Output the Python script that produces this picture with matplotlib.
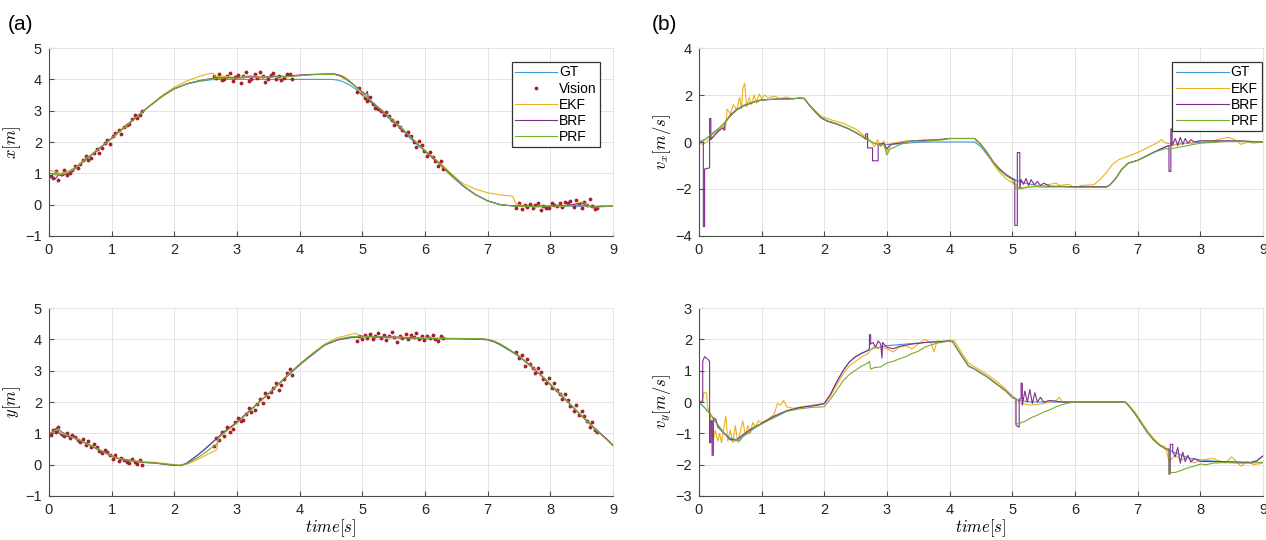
import matplotlib
matplotlib.use('Agg')
import matplotlib.pyplot as plt

# ---------------- data ----------------
# vision timestamps (same for x and y)
vis_t = [0.03, 0.07, 0.11, 0.15, 0.2, 0.24, 0.28, 0.33, 0.37, 0.41, 0.46, 0.5, 0.54, 0.59, 0.63, 0.67, 0.72,
         0.76, 0.8, 0.85, 0.89, 0.93, 0.98, 1.02, 1.06, 1.11, 1.15, 1.19, 1.24, 1.28, 1.32, 1.37, 1.41, 1.45, 1.49,
         2.63, 2.67, 2.71, 2.76, 2.8, 2.84, 2.89, 2.93, 2.97, 3.02, 3.06, 3.1, 3.15, 3.19, 3.23, 3.28, 3.32, 3.36,
         3.41, 3.45, 3.49, 3.54, 3.58, 3.62, 3.67, 3.71, 3.75, 3.8, 3.84, 3.88,
         4.91, 4.95, 4.99, 5.04, 5.08, 5.12, 5.17, 5.21, 5.25, 5.3, 5.34, 5.38, 5.43, 5.47, 5.51, 5.56, 5.6, 5.64,
         5.69, 5.73, 5.77, 5.82, 5.86, 5.9, 5.95, 5.99, 6.03, 6.08, 6.12, 6.16, 6.21, 6.25, 6.29,
         7.46, 7.5, 7.54, 7.59, 7.63, 7.67, 7.72, 7.76, 7.8, 7.85, 7.89, 7.93, 7.98, 8.02, 8.06, 8.11, 8.15, 8.19,
         8.24, 8.28, 8.32, 8.37, 8.41, 8.45, 8.5, 8.54, 8.58, 8.63, 8.67, 8.71, 8.75]
vis_x = [0.92, 0.85, 1.08, 0.78, 0.98, 1.1, 0.95, 1.02, 1.12, 1.25, 1.18, 1.3, 1.42, 1.55, 1.42, 1.48, 1.65,
         1.78, 1.66, 1.82, 1.98, 2.08, 1.95, 2.18, 2.28, 2.38, 2.25, 2.48, 2.55, 2.58, 2.72, 2.85, 2.76, 2.86, 3.0,
         4.12, 4.06, 4.18, 3.98, 4.02, 4.1, 4.2, 3.95, 4.08, 4.15, 3.88, 4.12, 4.22, 3.96, 4.0, 4.18, 4.06, 4.25,
         4.1, 3.92, 4.02, 4.15, 4.2, 4.0, 4.1, 3.98, 4.05, 4.16, 4.18, 4.02,
         3.6, 3.72, 3.55, 3.42, 3.3, 3.45, 3.22, 3.1, 3.05, 3.0, 2.85, 2.95, 2.82, 2.7, 2.55, 2.65, 2.48, 2.38,
         2.22, 2.32, 2.18, 2.0, 1.85, 2.02, 1.9, 1.72, 1.55, 1.68, 1.52, 1.4, 1.25, 1.38, 1.15,
         -0.1, 0.05, -0.15, 0.0, -0.08, 0.02, -0.12, -0.02, 0.04, -0.18, -0.05, -0.12, -0.1, 0.06, 0.0, -0.03,
         0.05, -0.08, 0.1, 0.06, 0.12, -0.06, 0.15, 0.02, -0.1, 0.08, -0.02, 0.18, -0.05, -0.15, -0.1]
vis_y = [0.95, 1.12, 1.05, 1.2, 0.98, 0.9, 1.02, 0.85, 0.95, 0.88, 0.78, 0.72, 0.82, 0.62, 0.75, 0.55, 0.65,
         0.58, 0.45, 0.38, 0.48, 0.42, 0.3, 0.18, 0.3, 0.12, 0.22, 0.14, 0.08, 0.05, 0.18, 0.1, 0.02, 0.15, -0.02,
         0.6, 0.85, 0.78, 1.05, 0.92, 1.2, 1.05, 1.15, 1.35, 1.5, 1.38, 1.42, 1.62, 1.8, 1.68, 1.75, 1.95, 2.1,
         1.98, 2.28, 2.15, 2.32, 2.45, 2.62, 2.4, 2.55, 2.75, 2.92, 3.05, 2.85,
         3.95, 4.1, 4.02, 4.15, 4.05, 4.18, 4.0, 4.12, 4.2, 4.05, 4.15, 3.98, 4.1, 4.22, 4.08, 3.92, 4.12, 4.05,
         4.18, 4.0, 4.15, 4.08, 4.2, 4.02, 4.1, 3.98, 4.12, 4.05, 4.15, 4.0, 3.95, 4.1, 4.05,
         3.6, 3.4, 3.5, 3.15, 3.38, 3.22, 3.1, 2.92, 3.08, 2.95, 2.75, 2.6, 2.78, 2.45, 2.6, 2.38, 2.25, 2.1,
         2.25, 2.05, 1.88, 1.72, 1.9, 1.58, 1.72, 1.55, 1.4, 1.2, 1.35, 1.1, 1.05]

# position x
x_gt_t = [0, 0.2, 0.4, 0.6, 0.8, 1.0, 1.2, 1.4, 1.6, 1.8, 2.0, 2.2, 2.4, 2.6, 2.8, 3.0, 4.5, 4.6, 4.7, 4.8,
          4.9, 5.0, 5.2, 5.4, 5.6, 5.8, 6.0, 6.2, 6.4, 6.6, 6.8, 7.0, 7.2, 7.4, 7.6, 9.0]
x_gt = [1.0, 0.97, 1.15, 1.45, 1.78, 2.12, 2.47, 2.82, 3.14, 3.45, 3.7, 3.85, 3.94, 3.99, 4.0, 4.0, 4.0, 3.98,
        3.92, 3.82, 3.68, 3.5, 3.15, 2.8, 2.45, 2.05, 1.7, 1.35, 0.95, 0.6, 0.32, 0.12, 0.0, -0.04, -0.05, -0.05]
x_ekf_t = [0, 0.1, 0.2, 0.3, 0.4, 0.5, 0.6, 0.7, 0.8, 0.9, 1.0, 1.1, 1.2, 1.3, 1.4, 1.5, 1.6, 1.8, 2.0, 2.2,
           2.4, 2.55, 2.62, 2.65, 2.8, 3.0, 3.2, 3.4, 3.6, 3.8, 4.0, 4.2, 4.4, 4.55, 4.7, 4.8, 4.9, 5.0, 5.2,
           5.4, 5.6, 5.8, 6.0, 6.2, 6.3, 6.4, 6.6, 6.8, 7.0, 7.2, 7.4, 7.45, 7.6, 7.8, 8.0, 8.2, 8.4, 8.5, 8.6,
           8.7, 8.8, 9.0]
x_ekf = [1.1, 1.05, 1.0, 1.05, 1.15, 1.32, 1.5, 1.62, 1.8, 1.95, 2.12, 2.3, 2.45, 2.62, 2.8, 2.97, 3.15, 3.48,
         3.75, 3.95, 4.1, 4.18, 4.2, 4.08, 4.1, 4.05, 4.12, 4.08, 4.1, 4.08, 4.12, 4.15, 4.17, 4.18, 4.1, 3.95,
         3.75, 3.55, 3.2, 2.85, 2.5, 2.1, 1.72, 1.38, 1.22, 1.02, 0.68, 0.5, 0.38, 0.31, 0.27, 0.02, -0.05,
         -0.08, -0.04, -0.06, 0.02, 0.08, -0.02, -0.1, -0.05, -0.05]
x_brf_t = [0, 0.05, 0.1, 0.15, 0.2, 0.3, 0.4, 0.5, 0.6, 0.7, 0.8, 0.9, 1.0, 1.1, 1.2, 1.3, 1.4, 1.5, 1.6, 1.8,
           2.0, 2.2, 2.4, 2.6, 2.8, 3.0, 3.2, 3.4, 3.6, 3.8, 4.0, 4.2, 4.4, 4.55, 4.65, 4.75, 4.85, 4.95, 5.05,
           5.08, 5.1, 5.2, 5.4, 5.6, 5.8, 6.0, 6.2, 6.4, 6.6, 6.8, 7.0, 7.2, 7.4, 7.6, 8.0, 8.3, 8.5, 8.6, 8.7,
           8.8, 9.0]
x_brf = [0.95, 0.88, 0.82, 0.95, 0.92, 1.0, 1.12, 1.3, 1.48, 1.62, 1.8, 1.95, 2.12, 2.3, 2.47, 2.63, 2.8, 2.98,
         3.14, 3.45, 3.7, 3.86, 3.96, 4.03, 4.06, 4.05, 4.08, 4.06, 4.1, 4.1, 4.14, 4.16, 4.17, 4.17, 4.12, 4.0,
         3.85, 3.68, 3.52, 3.62, 3.35, 3.2, 2.85, 2.48, 2.1, 1.72, 1.38, 1.0, 0.62, 0.33, 0.12, 0.0, -0.04,
         -0.05, -0.05, -0.02, 0.05, -0.05, -0.1, -0.05, -0.05]
x_prf_t = [0, 0.1, 0.2, 0.3, 0.4, 0.5, 0.6, 0.7, 0.8, 0.9, 1.0, 1.2, 1.4, 1.5, 1.6, 1.8, 2.0, 2.2, 2.4, 2.6,
           2.8, 3.0, 3.2, 3.4, 3.6, 3.8, 4.0, 4.2, 4.4, 4.55, 4.65, 4.75, 4.85, 4.95, 5.05, 5.2, 5.4, 5.6, 5.8,
           6.0, 6.2, 6.4, 6.6, 6.8, 7.0, 7.2, 7.4, 7.6, 8.0, 8.5, 8.7, 9.0]
x_prf = [1.0, 0.95, 0.95, 1.02, 1.13, 1.3, 1.47, 1.63, 1.8, 1.96, 2.12, 2.47, 2.8, 2.98, 3.14, 3.45, 3.7, 3.86,
         3.96, 4.02, 4.05, 4.04, 4.07, 4.05, 4.08, 4.09, 4.12, 4.15, 4.16, 4.16, 4.1, 3.98, 3.84, 3.67, 3.5,
         3.2, 2.84, 2.48, 2.1, 1.72, 1.37, 0.98, 0.62, 0.33, 0.12, 0.0, -0.04, -0.06, -0.05, -0.02, -0.08, -0.05]

# position y
y_gt_t = [0, 0.1, 0.15, 0.2, 0.3, 0.4, 0.5, 0.6, 0.7, 0.8, 0.9, 1.0, 1.1, 1.2, 1.3, 1.4, 1.5, 1.7, 1.9, 2.0,
          2.1, 2.2, 2.3, 2.4, 2.5, 2.6, 2.7, 2.8, 3.0, 3.2, 3.4, 3.6, 3.8, 4.0, 4.2, 4.4, 4.6, 4.8, 5.0, 5.5,
          6.0, 6.5, 6.9, 7.0, 7.1, 7.2, 7.3, 7.4, 7.5, 7.7, 7.9, 8.1, 8.3, 8.5, 8.7, 8.9, 9.0]
y_gt = [0.97, 1.12, 1.15, 1.05, 0.95, 0.86, 0.77, 0.68, 0.58, 0.48, 0.38, 0.28, 0.2, 0.15, 0.12, 0.1, 0.08,
        0.05, 0.0, -0.02, -0.03, 0.05, 0.2, 0.35, 0.52, 0.7, 0.88, 1.05, 1.35, 1.72, 2.08, 2.45, 2.82, 3.18,
        3.5, 3.82, 3.98, 4.05, 4.08, 4.05, 4.02, 4.02, 4.0, 3.98, 3.92, 3.82, 3.7, 3.58, 3.45, 3.12, 2.75,
        2.35, 1.95, 1.55, 1.18, 0.82, 0.62]
y_ekf_t = [0, 0.1, 0.15, 0.2, 0.3, 0.4, 0.5, 0.6, 0.7, 0.8, 0.9, 1.0, 1.1, 1.2, 1.3, 1.4, 1.5, 1.7, 1.9, 2.0,
           2.1, 2.2, 2.3, 2.4, 2.5, 2.6, 2.68, 2.7, 2.8, 3.0, 3.2, 3.4, 3.6, 3.8, 4.0, 4.2, 4.4, 4.6, 4.8, 4.9,
           4.95, 5.0, 5.5, 6.0, 6.5, 6.9, 7.0, 7.1, 7.2, 7.3, 7.4, 7.5, 7.7, 7.9, 8.1, 8.3, 8.5, 8.7, 8.9, 9.0]
y_ekf = [0.98, 1.1, 1.15, 1.0, 0.92, 0.85, 0.78, 0.66, 0.58, 0.47, 0.38, 0.28, 0.2, 0.16, 0.14, 0.12, 0.1,
         0.07, 0.03, 0.0, -0.01, 0.02, 0.1, 0.2, 0.3, 0.4, 0.48, 0.85, 1.02, 1.33, 1.7, 2.07, 2.45, 2.85, 3.22,
         3.55, 3.85, 4.05, 4.15, 4.2, 4.1, 4.08, 4.08, 4.05, 4.03, 4.02, 4.0, 3.95, 3.86, 3.74, 3.6, 3.47,
         3.14, 2.78, 2.38, 1.97, 1.56, 1.15, 0.8, 0.6]
y_brf_t = [0, 0.08, 0.12, 0.16, 0.2, 0.3, 0.4, 0.5, 0.6, 0.7, 0.8, 0.9, 1.0, 1.1, 1.2, 1.3, 1.4, 1.5, 1.7,
           1.9, 2.0, 2.1, 2.2, 2.3, 2.4, 2.5, 2.6, 2.7, 2.8, 3.0, 3.2, 3.4, 3.6, 3.8, 4.0, 4.2, 4.4, 4.6, 4.8,
           5.0, 5.5, 6.0, 6.5, 6.9, 7.0, 7.1, 7.2, 7.3, 7.4, 7.5, 7.7, 7.9, 8.1, 8.3, 8.5, 8.7, 8.9, 9.0]
y_brf = [0.95, 1.08, 1.18, 1.02, 0.92, 0.9, 0.88, 0.76, 0.68, 0.57, 0.46, 0.38, 0.27, 0.2, 0.16, 0.14, 0.1,
         0.07, 0.05, 0.0, -0.02, -0.03, 0.05, 0.2, 0.35, 0.52, 0.7, 0.88, 1.06, 1.36, 1.72, 2.08, 2.45, 2.83,
         3.2, 3.52, 3.82, 3.98, 4.06, 4.1, 4.07, 4.03, 4.02, 4.01, 3.99, 3.93, 3.84, 3.72, 3.6, 3.47, 3.13,
         2.76, 2.36, 1.96, 1.56, 1.17, 0.82, 0.62]
y_prf_t = [0, 0.1, 0.15, 0.2, 0.3, 0.4, 0.5, 0.6, 0.7, 0.8, 0.9, 1.0, 1.1, 1.2, 1.3, 1.4, 1.5, 1.7, 1.9, 2.0,
           2.1, 2.2, 2.3, 2.4, 2.5, 2.6, 2.68, 2.7, 2.8, 3.0, 3.2, 3.4, 3.6, 3.8, 4.0, 4.2, 4.4, 4.6, 4.8, 5.0,
           5.5, 6.0, 6.5, 6.9, 7.0, 7.1, 7.2, 7.3, 7.4, 7.5, 7.7, 7.9, 8.1, 8.3, 8.5, 8.7, 8.9, 9.0]
y_prf = [0.97, 1.1, 1.13, 1.03, 0.94, 0.86, 0.77, 0.67, 0.58, 0.48, 0.38, 0.28, 0.21, 0.16, 0.13, 0.1, 0.08,
         0.05, 0.01, -0.01, -0.02, 0.03, 0.14, 0.26, 0.4, 0.55, 0.65, 0.85, 1.03, 1.34, 1.71, 2.08, 2.45, 2.84,
         3.2, 3.53, 3.83, 4.0, 4.08, 4.1, 4.06, 4.03, 4.03, 4.02, 4.0, 3.94, 3.85, 3.73, 3.6, 3.47, 3.13, 2.76,
         2.36, 1.96, 1.56, 1.17, 0.8, 0.6]

# velocity vx
vx_gt_t = [0, 0.1, 0.2, 0.3, 0.4, 0.5, 0.6, 0.7, 0.8, 0.9, 1.0, 1.2, 1.4, 1.6, 1.68, 1.75, 1.85, 1.95, 2.05,
           2.2, 2.4, 2.6, 2.7, 2.8, 2.9, 3.0, 3.2, 3.4, 3.6, 4.4, 4.5, 4.6, 4.7, 4.8, 4.9, 5.0, 5.2, 5.4, 5.6,
           6.0, 6.5, 6.55, 6.65, 6.75, 6.85, 7.0, 7.1, 7.2, 7.3, 7.4, 7.5, 7.7, 8.0, 8.3, 8.6, 9.0]
vx_gt = [0, 0.12, 0.3, 0.52, 0.78, 1.1, 1.38, 1.55, 1.65, 1.73, 1.78, 1.82, 1.83, 1.86, 1.85, 1.6, 1.3, 1.05,
         0.9, 0.78, 0.55, 0.25, 0.08, -0.05, -0.1, -0.1, -0.08, -0.03, 0.0, 0.0, -0.2, -0.55, -0.9, -1.2,
         -1.42, -1.58, -1.75, -1.85, -1.9, -1.92, -1.92, -1.85, -1.55, -1.15, -0.9, -0.78, -0.65, -0.5, -0.38,
         -0.25, -0.15, -0.07, -0.02, 0.03, 0.05, 0.0]
vx_ekf_t = [0, 0.05, 0.1, 0.2, 0.3, 0.38, 0.42, 0.45, 0.5, 0.55, 0.6, 0.65, 0.68, 0.7, 0.73, 0.76, 0.8, 0.84,
            0.88, 0.92, 0.96, 1.0, 1.05, 1.1, 1.2, 1.3, 1.4, 1.5, 1.6, 1.68, 1.75, 1.85, 1.95, 2.1, 2.3, 2.5,
            2.6, 2.7, 2.75, 2.8, 2.85, 2.9, 2.95, 3.0, 3.05, 3.1, 3.3, 3.5, 3.7, 3.9, 4.0, 4.4, 4.5, 4.6, 4.7,
            4.8, 4.9, 5.0, 5.05, 5.1, 5.3, 5.5, 5.7, 5.75, 5.9, 6.0, 6.1, 6.3, 6.4, 6.5, 6.6, 6.7, 6.85, 7.0,
            7.15, 7.3, 7.38, 7.45, 7.6, 7.8, 8.0, 8.2, 8.35, 8.45, 8.55, 8.65, 8.75, 8.85, 9.0]
vx_ekf = [0, -0.1, -0.05, 0.2, 0.4, 0.7, 0.5, 1.4, 1.2, 1.6, 1.35, 1.9, 1.4, 2.3, 2.5, 1.5, 1.9, 1.6, 2.0,
          1.65, 2.05, 1.85, 2.0, 1.88, 1.95, 1.85, 1.92, 1.82, 1.9, 1.87, 1.62, 1.35, 1.1, 0.95, 0.8, 0.55,
          0.35, 0.15, 0.0, -0.2, 0.1, -0.2, 0.05, -0.45, -0.2, -0.05, 0.05, 0.05, 0.05, 0.1, 0.15, 0.15, -0.15,
          -0.5, -0.95, -1.3, -1.55, -1.75, -1.8, -1.95, -1.9, -1.85, -1.75, -1.85, -1.8, -1.95, -1.85, -1.82,
          -1.6, -1.3, -0.95, -0.75, -0.6, -0.45, -0.25, -0.05, 0.1, -0.05, -0.1, -0.05, 0.05, 0.05, 0.15, 0.2,
          0.1, -0.1, 0.0, -0.05, 0.0]
vx_brf_t = [0, 0.07, 0.07, 0.09, 0.09, 0.17, 0.17, 0.19, 0.19, 0.24, 0.3, 0.38, 0.4, 0.42, 0.5, 0.6, 0.7, 0.8,
            0.9, 1.0, 1.2, 1.4, 1.6, 1.68, 1.75, 1.85, 1.95, 2.05, 2.2, 2.4, 2.6, 2.66, 2.66, 2.69, 2.69, 2.77,
            2.77, 2.86, 2.86, 2.95, 3.0, 3.05, 3.2, 3.4, 3.6, 3.8, 4.0, 4.4, 4.5, 4.6, 4.7, 4.8, 4.9, 5.0,
            5.04, 5.04, 5.08, 5.08, 5.12, 5.12, 5.14, 5.18, 5.22, 5.26, 5.3, 5.35, 5.4, 5.45, 5.5, 5.6, 6.0,
            6.5, 6.55, 6.65, 6.75, 6.85, 7.0, 7.1, 7.2, 7.3, 7.45, 7.5, 7.5, 7.53, 7.53, 7.55, 7.55, 7.6, 7.64,
            7.68, 7.72, 7.76, 7.8, 7.85, 7.9, 8.0, 8.3, 8.6, 9.0]
vx_brf = [0, 0.0, -3.6, -3.6, -1.15, -1.1, 1.0, 1.0, 0.1, 0.25, 0.45, 0.6, 0.5, 0.85, 1.15, 1.38, 1.52, 1.62,
          1.72, 1.8, 1.82, 1.84, 1.86, 1.85, 1.6, 1.3, 1.02, 0.88, 0.76, 0.55, 0.25, 0.12, 0.35, 0.35, -0.25,
          -0.25, -0.8, -0.8, -0.1, -0.05, -0.3, -0.1, -0.05, 0.05, 0.08, 0.1, 0.15, 0.15, -0.1, -0.45, -0.85,
          -1.15, -1.38, -1.55, -1.6, -3.55, -3.55, -0.45, -0.45, -2.0, -1.6, -1.8, -1.55, -1.85, -1.6, -1.82,
          -1.68, -1.85, -1.75, -1.88, -1.9, -1.9, -1.85, -1.55, -1.15, -0.9, -0.78, -0.65, -0.52, -0.38, -0.2,
          -0.15, -1.25, -1.25, 0.55, 0.55, -0.15, 0.15, -0.15, 0.2, -0.1, 0.15, -0.05, 0.1, 0.0, 0.05, 0.05,
          0.05, 0.0]
vx_prf_t = [0, 0.1, 0.2, 0.3, 0.4, 0.5, 0.6, 0.7, 0.8, 0.9, 1.0, 1.2, 1.4, 1.6, 1.68, 1.75, 1.85, 1.95, 2.05,
            2.2, 2.4, 2.6, 2.7, 2.8, 2.9, 2.95, 3.0, 3.05, 3.1, 3.2, 3.3, 3.45, 3.6, 3.75, 3.9, 4.0, 4.4, 4.5,
            4.6, 4.7, 4.8, 4.9, 5.0, 5.05, 5.15, 5.3, 5.5, 5.8, 6.0, 6.5, 6.55, 6.65, 6.75, 6.85, 7.0, 7.1, 7.2,
            7.3, 7.45, 7.5, 7.6, 7.7, 7.8, 7.9, 8.0, 8.2, 8.4, 8.6, 8.8, 9.0]
vx_prf = [0, 0.1, 0.35, 0.55, 0.8, 1.1, 1.35, 1.52, 1.65, 1.72, 1.78, 1.83, 1.82, 1.87, 1.86, 1.62, 1.32, 1.05,
          0.9, 0.78, 0.56, 0.26, 0.08, -0.05, -0.15, -0.1, -0.55, -0.3, -0.25, -0.12, 0.0, 0.05, 0.02, 0.08,
          0.1, 0.15, 0.15, -0.12, -0.48, -0.88, -1.2, -1.42, -1.6, -1.95, -1.98, -1.9, -1.92, -1.9, -1.92,
          -1.92, -1.85, -1.55, -1.15, -0.9, -0.78, -0.66, -0.52, -0.4, -0.28, -0.3, -0.25, -0.2, -0.15, -0.1,
          -0.05, -0.02, 0.02, 0.05, 0.0, 0.0]

# velocity vy
vy_gt_t = [0, 0.1, 0.2, 0.3, 0.4, 0.5, 0.55, 0.62, 0.7, 0.8, 0.9, 1.0, 1.1, 1.2, 1.3, 1.4, 1.5, 1.7, 1.9, 2.0,
           2.1, 2.2, 2.3, 2.4, 2.5, 2.6, 2.7, 2.8, 3.0, 3.3, 3.6, 4.0, 4.05, 4.2, 4.3, 4.4, 4.6, 4.8, 4.9, 5.0,
           5.1, 5.3, 6.0, 6.8, 6.85, 6.95, 7.05, 7.15, 7.25, 7.35, 7.45, 7.6, 7.8, 8.0, 8.3, 8.6, 8.8, 8.9, 9.0]
vy_gt = [0, -0.2, -0.45, -0.72, -0.98, -1.2, -1.25, -1.22, -1.1, -0.95, -0.82, -0.7, -0.58, -0.47, -0.37,
         -0.28, -0.22, -0.15, -0.1, -0.05, 0.25, 0.65, 1.0, 1.28, 1.45, 1.56, 1.65, 1.72, 1.8, 1.85, 1.9, 1.95,
         1.92, 1.45, 1.15, 1.05, 0.8, 0.5, 0.35, 0.15, 0.05, 0.0, 0.0, 0.0, -0.1, -0.35, -0.65, -0.95, -1.2,
         -1.38, -1.5, -1.62, -1.78, -1.85, -1.9, -1.92, -1.93, -1.88, -1.72]
vy_ekf_t = [0, 0.05, 0.08, 0.12, 0.14, 0.18, 0.2, 0.23, 0.26, 0.3, 0.33, 0.36, 0.4, 0.43, 0.46, 0.5, 0.54,
            0.58, 0.62, 0.66, 0.7, 0.74, 0.78, 0.82, 0.86, 0.9, 0.95, 1.0, 1.1, 1.2, 1.25, 1.3, 1.35, 1.4, 1.5,
            1.7, 1.9, 2.0, 2.1, 2.2, 2.3, 2.4, 2.5, 2.6, 2.7, 2.75, 2.8, 2.85, 2.9, 3.0, 3.1, 3.2, 3.3, 3.4,
            3.5, 3.6, 3.7, 3.75, 3.8, 3.9, 4.0, 4.08, 4.2, 4.3, 4.4, 4.6, 4.8, 4.9, 5.0, 5.08, 5.15, 5.3, 5.5,
            5.7, 5.75, 5.8, 6.0, 6.8, 6.85, 6.95, 7.05, 7.15, 7.25, 7.35, 7.45, 7.5, 7.6, 7.7, 7.8, 7.9, 8.0,
            8.2, 8.4, 8.5, 8.6, 8.65, 8.75, 8.85, 9.0]
vy_ekf = [0, 0.05, 0.3, 0.3, -0.2, -0.35, -0.8, -1.2, -0.9, -1.25, -1.0, -1.3, -0.8, -0.45, -1.25, -0.9,
          -1.3, -0.75, -1.3, -0.95, -0.6, -1.05, -0.75, -1.0, -0.65, -0.8, -0.6, -0.65, -0.55, -0.4, -0.05,
          -0.1, 0.05, -0.15, -0.2, -0.13, -0.08, -0.05, 0.2, 0.55, 0.9, 1.15, 1.3, 1.45, 1.55, 1.7, 1.8, 1.7,
          1.75, 1.7, 1.6, 1.75, 1.8, 1.7, 1.85, 2.0, 1.9, 1.6, 1.95, 1.92, 1.98, 1.95, 1.55, 1.25, 1.12, 0.88,
          0.58, 0.4, 0.2, 0.05, -0.05, -0.1, -0.05, 0.05, 0.15, 0.0, 0.0, 0.0, -0.08, -0.3, -0.6, -0.9, -1.15,
          -1.35, -1.45, -1.9, -1.7, -1.85, -1.75, -1.95, -1.85, -1.8, -1.95, -1.75, -1.95, -2.05, -1.9, -2.0,
          -1.95]
vy_brf_t = [0, 0.06, 0.06, 0.09, 0.15, 0.17, 0.17, 0.19, 0.19, 0.21, 0.21, 0.23, 0.23, 0.27, 0.3, 0.35, 0.4,
            0.5, 0.6, 0.7, 0.8, 0.9, 1.0, 1.2, 1.4, 1.6, 1.8, 2.0, 2.1, 2.2, 2.3, 2.4, 2.5, 2.6, 2.7, 2.72,
            2.72, 2.74, 2.74, 2.78, 2.82, 2.86, 2.9, 2.92, 2.93, 3.0, 3.1, 3.2, 3.4, 3.6, 4.0, 4.05, 4.2, 4.3,
            4.4, 4.6, 4.8, 4.9, 5.0, 5.06, 5.06, 5.11, 5.11, 5.14, 5.14, 5.16, 5.16, 5.2, 5.24, 5.28, 5.32,
            5.36, 5.4, 5.45, 5.5, 5.6, 5.8, 6.8, 6.85, 6.95, 7.05, 7.15, 7.25, 7.35, 7.45, 7.5, 7.5, 7.52, 7.52,
            7.56, 7.56, 7.6, 7.64, 7.68, 7.72, 7.76, 7.8, 7.85, 7.9, 8.0, 8.3, 8.6, 8.8, 8.9, 9.0]
vy_brf = [0, 0.0, 1.3, 1.45, 1.35, 1.3, -1.3, -1.3, -0.6, -0.6, -1.7, -1.7, -0.5, -0.55, -0.8, -0.9, -1.0,
          -1.2, -1.2, -1.05, -0.9, -0.78, -0.68, -0.45, -0.28, -0.18, -0.12, -0.05, 0.25, 0.65, 1.0, 1.28,
          1.45, 1.56, 1.65, 1.7, 2.15, 2.15, 1.85, 1.9, 1.75, 1.95, 1.85, 1.4, 1.9, 1.75, 1.7, 1.78, 1.85, 1.9,
          1.95, 1.92, 1.45, 1.15, 1.05, 0.8, 0.5, 0.35, 0.15, 0.1, -0.75, -0.8, 0.1, 0.1, 0.6, 0.6, -0.1, 0.35,
          0.0, 0.4, -0.05, 0.3, 0.0, 0.15, 0.0, 0.05, 0.0, 0.0, -0.1, -0.35, -0.65, -0.95, -1.2, -1.38, -1.5,
          -1.5, -2.3, -2.3, -1.35, -1.35, -1.6, -1.75, -1.45, -1.95, -1.6, -1.9, -1.7, -1.92, -1.8, -1.9, -1.9,
          -1.92, -1.93, -1.88, -1.72]
vy_prf_t = [0, 0.1, 0.2, 0.3, 0.4, 0.5, 0.6, 0.65, 0.7, 0.8, 0.9, 1.0, 1.2, 1.4, 1.6, 1.8, 2.0, 2.1, 2.2, 2.3,
            2.4, 2.5, 2.6, 2.7, 2.72, 2.74, 2.8, 2.9, 3.0, 3.1, 3.2, 3.3, 3.4, 3.5, 3.6, 3.7, 3.8, 4.0, 4.05,
            4.2, 4.3, 4.4, 4.6, 4.8, 4.9, 5.0, 5.05, 5.05, 5.1, 5.15, 5.2, 5.3, 5.4, 5.5, 5.6, 5.7, 5.8, 5.9,
            6.0, 6.8, 6.85, 6.95, 7.05, 7.15, 7.25, 7.35, 7.45, 7.5, 7.5, 7.6, 7.7, 7.8, 7.9, 8.0, 8.1, 8.2,
            8.4, 8.6, 8.8, 9.0]
vy_prf = [0, -0.2, -0.42, -0.75, -1.0, -1.15, -1.2, -1.25, -1.1, -0.98, -0.78, -0.7, -0.5, -0.3, -0.22,
          -0.17, -0.15, 0.1, 0.38, 0.68, 0.88, 1.02, 1.15, 1.25, 1.3, 1.05, 1.1, 1.12, 1.25, 1.3, 1.38, 1.45,
          1.55, 1.62, 1.75, 1.82, 1.88, 1.95, 1.92, 1.45, 1.15, 1.05, 0.8, 0.5, 0.35, 0.15, 0.12, -0.68, -0.7,
          -0.65, -0.62, -0.5, -0.42, -0.32, -0.25, -0.15, -0.08, -0.03, 0.0, 0.0, -0.1, -0.35, -0.65, -0.95,
          -1.2, -1.38, -1.5, -1.55, -2.25, -2.25, -2.18, -2.1, -2.05, -1.98, -2.0, -1.95, -1.93, -1.95, -1.95,
          -1.92]

# ---------------- styling ----------------
plt.rcParams['font.family'] = ['Liberation Sans', 'DejaVu Sans']
plt.rcParams['mathtext.fontset'] = 'cm'

c_gt = '#3f9bd6'
c_vis = '#a8202c'
c_ekf = '#edb120'
c_brf = '#7e2f8e'
c_prf = '#77ac30'
grid_c = '#e3e3e3'
axis_c = '#4d4d4d'
lw = 0.8


def style_axes(ax, yticks):
    ax.set_xlim(0, 9)
    ax.set_ylim(yticks[0], yticks[-1])
    ax.set_xticks(range(0, 10))
    ax.set_yticks(yticks)
    ax.grid(True, color=grid_c, linewidth=0.7)
    ax.set_axisbelow(True)
    for s in ['top', 'right']:
        ax.spines[s].set_color(grid_c)
        ax.spines[s].set_linewidth(0.7)
    for s in ['left', 'bottom']:
        ax.spines[s].set_color(axis_c)
        ax.spines[s].set_linewidth(0.8)
    ax.tick_params(direction='in', length=3.5, width=0.8, color=axis_c,
                   labelsize=10.5, labelcolor='#262626', pad=5)


fig = plt.figure(figsize=(12.66, 5.40), dpi=100)
ax1 = fig.add_axes([0.0387, 0.563, 0.4455, 0.348])
ax2 = fig.add_axes([0.0387, 0.0815, 0.4455, 0.348])
ax3 = fig.add_axes([0.5521, 0.563, 0.4455, 0.348])
ax4 = fig.add_axes([0.5521, 0.0815, 0.4455, 0.348])

# (a) positions
for ax, gt_t, gt, vis, ekf_t, ekf, brf_t, brf, prf_t, prf in [
        (ax1, x_gt_t, x_gt, vis_x, x_ekf_t, x_ekf, x_brf_t, x_brf, x_prf_t, x_prf),
        (ax2, y_gt_t, y_gt, vis_y, y_ekf_t, y_ekf, y_brf_t, y_brf, y_prf_t, y_prf)]:
    ax.plot(gt_t, gt, color=c_gt, lw=lw, label='GT')
    ax.plot(vis_t, vis, '.', color=c_vis, ms=3.5, label='Vision')
    ax.plot(ekf_t, ekf, color=c_ekf, lw=lw, label='EKF')
    ax.plot(brf_t, brf, color=c_brf, lw=lw, label='BRF')
    ax.plot(prf_t, prf, color=c_prf, lw=lw, label='PRF')
    style_axes(ax, [-1, 0, 1, 2, 3, 4, 5])

ax1.set_ylabel('$x[m]$', fontsize=12, labelpad=2)
ax2.set_ylabel('$y[m]$', fontsize=12, labelpad=2)
ax2.set_xlabel('$time[s]$', fontsize=12, labelpad=0)

# (b) velocities
for ax, gt_t, gt, ekf_t, ekf, brf_t, brf, prf_t, prf in [
        (ax3, vx_gt_t, vx_gt, vx_ekf_t, vx_ekf, vx_brf_t, vx_brf, vx_prf_t, vx_prf),
        (ax4, vy_gt_t, vy_gt, vy_ekf_t, vy_ekf, vy_brf_t, vy_brf, vy_prf_t, vy_prf)]:
    ax.plot(gt_t, gt, color=c_gt, lw=lw, label='GT')
    ax.plot(ekf_t, ekf, color=c_ekf, lw=lw, label='EKF')
    ax.plot(brf_t, brf, color=c_brf, lw=lw, label='BRF')
    ax.plot(prf_t, prf, color=c_prf, lw=lw, label='PRF')

style_axes(ax3, [-4, -2, 0, 2, 4])
style_axes(ax4, [-3, -2, -1, 0, 1, 2, 3])
ax3.set_ylabel('$v_x[m/s]$', fontsize=12, labelpad=2)
ax4.set_ylabel('$v_y[m/s]$', fontsize=12, labelpad=2)
ax4.set_xlabel('$time[s]$', fontsize=12, labelpad=0)

leg_kw = dict(loc='upper right', fontsize=10, handletextpad=0.15,
              labelspacing=0.15, borderpad=0.25, borderaxespad=0, fancybox=False,
              framealpha=1, edgecolor='#333333')
leg1 = ax1.legend(bbox_to_anchor=(0.977, 0.926), handlelength=3.0, **leg_kw)
leg3 = ax3.legend(bbox_to_anchor=(0.998, 0.926), handlelength=3.8, **leg_kw)
for leg in (leg1, leg3):
    leg.get_frame().set_linewidth(0.9)

fig.text(0.006, 0.945, '(a)', fontsize=15)
fig.text(0.515, 0.945, '(b)', fontsize=15)

fig.savefig('out.png', dpi=100)
